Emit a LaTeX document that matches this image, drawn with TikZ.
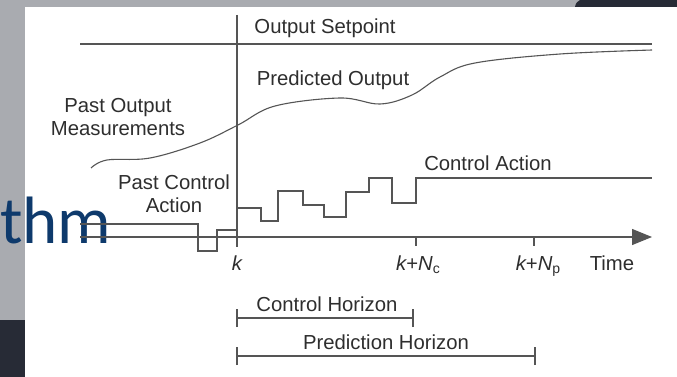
\documentclass[tikz,border=0pt]{standalone}
\usepackage{fontspec}
\setmainfont{Liberation Sans}
\newfontfamily\slidefont{Carlito}
\usetikzlibrary{arrows.meta}
\definecolor{ink}{HTML}{2E2E2E}
\definecolor{linegray}{HTML}{555555}
\definecolor{bggray}{HTML}{A9ABB0}
\definecolor{bgdark}{HTML}{272B36}
\definecolor{slideblue}{HTML}{0E3A6C}
\tikzset{
  lbl/.style={text=ink, font=\fontsize{20.3}{22}\selectfont, inner sep=0pt, align=center},
  sig/.style={draw=linegray, line width=1.2pt},
  tick/.style={draw=linegray, line width=1.2pt},
}
\begin{document}
\begin{tikzpicture}[x=1pt,y=-1pt]
\useasboundingbox (0,0) rectangle (677,377);
% background of the screenshot
\fill[bggray] (0,0) rectangle (677,377);
\fill[bgdark] (0,320) rectangle (25,377);
\fill[bgdark] (580,0) .. controls (576,3) .. (575,7) -- (677,7) -- (677,0) -- cycle;
\fill[white] (25,7) rectangle (677,377);
% slide title fragment
\node[anchor=base west, inner sep=0pt, text=slideblue, font=\slidefont\fontsize{67}{67}\selectfont] (thm) at (0,243) {thm};

% vertical line at k
\coordinate (ktop) at (237,15);
\coordinate (kbot) at (237,247);
\draw[tick] (ktop) -- (kbot);

% setpoint
\coordinate (sp0) at (80,44);
\coordinate (sp1) at (652,44);
\draw[sig] (sp0) -- (sp1);
\node[lbl] (splbl) at (325,28) {Output Setpoint};

% predicted output curve
\draw[sig, line width=1.1pt] plot[smooth, tension=0.6] coordinates {
 (91,168) (107,160) (150,158) (200,143) (238,125) (275,106) (340,98)
 (380,104) (412,95) (440,77) (475,63) (560,54) (652,50)};
\node[lbl] (predlbl) at (333,80) {Predicted Output};
\node[lbl] (pastout) at (118,117) {Past Output\\[1pt]Measurements};

% time axis
\coordinate (ax0) at (80,237);
\coordinate (ax1) at (652,237);
\draw[sig, -{Triangle[length=20pt,width=16pt]}] (ax0) -- (ax1);

% past control
\draw[sig] (80,224) -- (198,224) -- (198,251) -- (217,251) -- (217,230) -- (237,230);
\node[lbl] (pastctl) at (174,194) {Past Control\\[1pt]Action};

% future control
\draw[sig] (237,208) -- (261,208) -- (261,221) -- (278,221) -- (278,191) -- (303,191)
  -- (303,205) -- (324,205) -- (324,217) -- (346,217) -- (346,192) -- (369,192)
  -- (369,178) -- (392,178) -- (392,203) -- (416,203) -- (416,178) -- (652,178);
\node[lbl] (ctllbl) at (488,163) {Control Action};

% ticks
\coordinate (nc) at (416,237);
\coordinate (np) at (534,237);
\draw[tick] (nc) -- ++(0,9);
\draw[tick] (np) -- ++(0,9);
\node[lbl, anchor=base] (klbl) at (237,270) {\itshape k};
\node[lbl, anchor=base] (nclbl) at (418,270) {\itshape k\upshape +\itshape N\upshape\raisebox{-0.35ex}{\fontsize{14}{14}\selectfont c}};
\node[lbl, anchor=base] (nplbl) at (538,270) {\itshape k\upshape +\itshape N\upshape\raisebox{-0.35ex}{\fontsize{14}{14}\selectfont p}};
\node[lbl, anchor=base] (timelbl) at (612,270) {Time};

% horizons
\coordinate (ch0) at (237,318);
\coordinate (ch1) at (413,318);
\coordinate (ph0) at (237,356);
\coordinate (ph1) at (535,356);
\draw[tick] (ch0) -- (ch1);
\draw[tick] ([yshift=-9pt]ch0) -- ([yshift=9pt]ch0);
\draw[tick] ([yshift=-9pt]ch1) -- ([yshift=9pt]ch1);
\draw[tick] (ph0) -- (ph1);
\draw[tick] ([yshift=-9pt]ph0) -- ([yshift=9pt]ph0);
\draw[tick] ([yshift=-9pt]ph1) -- ([yshift=9pt]ph1);
\node[lbl] (chlbl) at (327,304) {Control Horizon};
\node[lbl] (phlbl) at (386,342) {Prediction Horizon};
\end{tikzpicture}
\end{document}
